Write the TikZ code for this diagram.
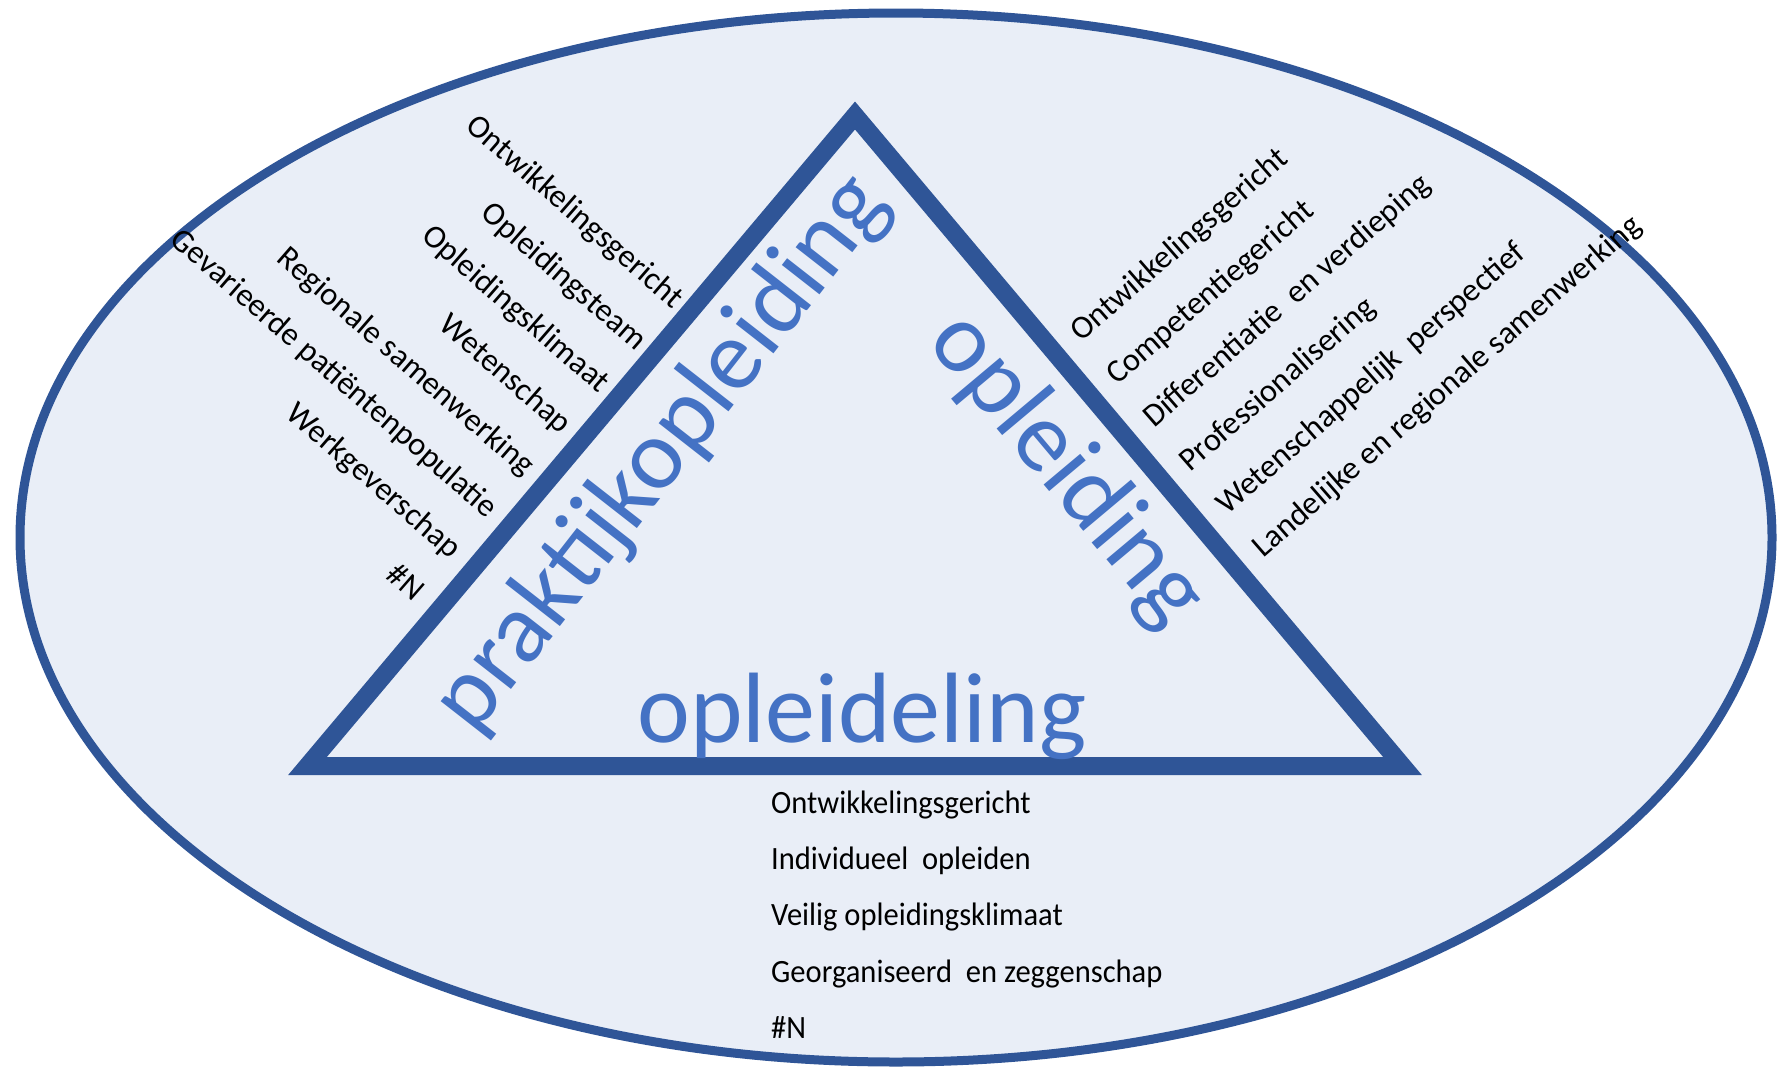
\documentclass[tikz,border=0pt]{standalone}
\usepackage{fontspec}
\setmainfont{Carlito}
\usepackage{tikz}
\usetikzlibrary{positioning}
\usetikzlibrary{calc}

\definecolor{rand}{HTML}{2F5597}
\definecolor{vlak}{HTML}{E9EEF7}
\definecolor{woord}{HTML}{4472C4}

\tikzset{
  punt/.style={font=\fontsize{32.5}{38}\selectfont, inner sep=0pt, text=black},
  links/.style={punt, anchor=base east, rotate=-41},
  rechts/.style={punt, anchor=base west, rotate=41},
  onder/.style={punt, anchor=base west, xscale=0.94},
  groot/.style={font=\fontsize{100}{110}\selectfont, inner sep=0pt, text=woord, anchor=base}
}

\begin{document}
\begin{tikzpicture}[x=1pt,y=-1pt]
\useasboundingbox (0,0) rectangle (1778,1069);

\draw[rand, line width=9pt, fill=vlak] (896,537.5) ellipse (876pt and 524.5pt);

\coordinate (top) at (855,115.5);
\coordinate (lo) at (307.5,766);
\coordinate (ro) at (1402.5,766);
\draw[rand, line width=18pt, line join=miter] (top) -- (lo) -- (ro) -- cycle;

\node[groot, rotate=52] (praktijk) at (683,470) {praktijkopleiding};
\node[groot, rotate=-50] (opleiding) at (1046,487) {opleiding};
\node[groot] (opleideling) at (862,742) {opleideling};

\node[links] (p1) at (673,310) {Ontwikkelingsgericht};
\node[links] (p2) at (636,352) {Opleidingsteam};
\node[links] (p3) at (599,394) {Opleidingsklimaat};
\node[links] (p4) at (561,435) {Wetenschap};
\node[links] (p5) at (524,477) {Regionale samenwerking};
\node[links] (p6) at (487,519) {Gevarieerde\ patiëntenpopulatie};
\node[links] (p7) at (450,560) {Werkgeverschap};
\node[links] (p8) at (413,602) {\#N};

\node[rechts] (r1) at (1081,343) {Ontwikkelingsgericht};
\node[rechts] (r2) at (1117,386) {Competentiegericht};
\node[rechts] (r3) at (1154,429) {Differentiatie\ \ en verdieping};
\node[rechts] (r4) at (1190,473) {Professionalisering};
\node[rechts] (r5) at (1227,516) {Wetenschappelijk\ \ perspectief};
\node[rechts] (r6) at (1263,559) {Landelijke en regionale samenwerking};

\node[onder] (b1) at (771,813) {Ontwikkelingsgericht};
\node[onder] (b2) at (771,869) {Individueel\ \ opleiden};
\node[onder] (b3) at (771,925) {Veilig opleidingsklimaat};
\node[onder] (b4) at (771,982) {Georganiseerd\ \ en zeggenschap};
\node[onder] (b5) at (771,1038) {\#N};
\end{tikzpicture}
\end{document}
